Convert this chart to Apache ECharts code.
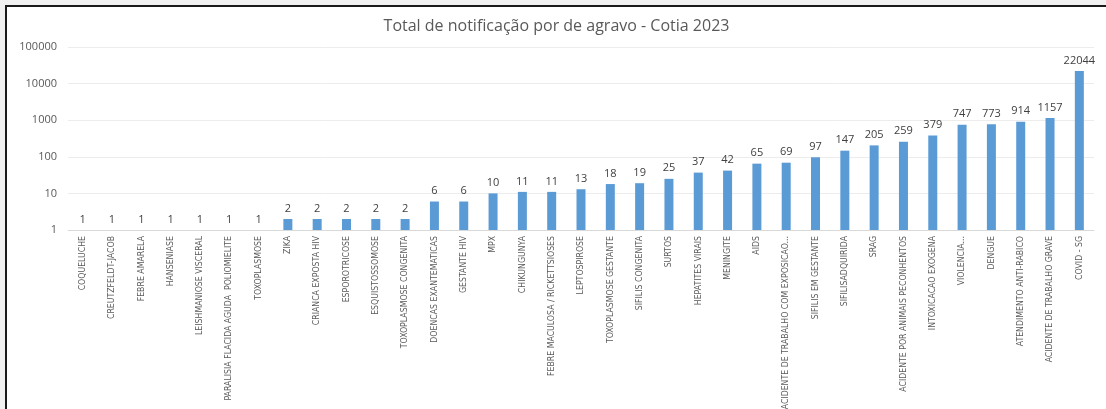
<!DOCTYPE html>
<html>
<head>
<meta charset="utf-8">
<script src="https://cdn.jsdelivr.net/npm/echarts@6/dist/echarts.min.js"></script>
<style>
  html, body { margin: 0; padding: 0; background: #f0f0f0; overflow: hidden; }
  #frame { position: absolute; left: 5px; top: 5px; width: 1101px; height: 404px;
           border-top: 2px solid #1a1a1a; border-left: 2px solid #1a1a1a; background: #fff; }
  #main { width: 1099px; height: 402px; }
</style>
</head>
<body>
<div id="frame"><div id="main"></div></div>
<script>
// categorias (agravos)
var agravos = [
  'COQUELUCHE', 'CREUTZFELDT-JACOB', 'FEBRE AMARELA', 'HANSENIASE', 'LEISHMANIOSE VISCERAL',
  'PARALISIA FLACIDA AGUDA  POLIOMIELITE', 'TOXOPLASMOSE', 'ZIKA', 'CRIANCA EXPOSTA HIV',
  'ESPOROTRICOSE', 'ESQUISTOSSOMOSE', 'TOXOPLASMOSE CONGENITA', 'DOENCAS EXANTEMATICAS',
  'GESTANTE HIV', 'MPX', 'CHIKUNGUNYA', 'FEBRE MACULOSA / RICKETTSIOSES', 'LEPTOSPIROSE',
  'TOXOPLASMOSE GESTANTE', 'SIFILIS CONGENITA', 'SURTOS', 'HEPATITES VIRAIS', 'MENINGITE',
  'AIDS', 'ACIDENTE DE TRABALHO COM EXPOSICAO...', 'SIFILIS EM GESTANTE', 'SIFILISADQUIRIDA',
  'SRAG', 'ACIDENTE POR ANIMAIS PECONHENTOS', 'INTOXICACAO EXOGENA', 'VIOLENCIA...',
  'DENGUE', 'ATENDIMENTO ANTI-RABICO', 'ACIDENTE DE TRABALHO GRAVE', 'COVID - SG'
];
// total de notificacoes
var totais = [
  1, 1, 1, 1, 1, 1, 1, 2, 2, 2, 2, 2, 6, 6, 10, 11, 11, 13, 18, 19, 25, 37, 42,
  65, 69, 97, 147, 205, 259, 379, 747, 773, 914, 1157, 22044
];

var myChart = echarts.init(document.getElementById('main'));
var option = {
  animation: false,
  title: {
    text: 'Total de notificação por de agravo - Cotia 2023',
    left: 'center',
    top: 6,
    textStyle: { color: '#595959', fontWeight: 'normal', fontSize: 16, fontFamily: 'Open Sans' }
  },
  grid: { left: 61, right: 12, top: 40, bottom: 179, containLabel: false, outerBoundsMode: 'none' },
  xAxis: {
    type: 'category',
    data: agravos,
    axisLine: { lineStyle: { color: '#d9d9d9' } },
    axisTick: { show: false },
    axisLabel: {
      rotate: 90,
      interval: 0,
      margin: 6,
      color: '#595959',
      fontSize: 8.7,
      fontFamily: 'DejaVu Sans Condensed'
    }
  },
  yAxis: {
    type: 'log',
    logBase: 10,
    min: 1,
    max: 100000,
    axisLine: { show: false },
    axisTick: { show: false },
    splitLine: { lineStyle: { color: '#ececec' } },
    axisLabel: {
      color: '#595959', fontSize: 11, margin: 11, fontFamily: 'Open Sans',
      formatter: function (v) { return String(v); }
    }
  },
  series: [{
    type: 'bar',
    data: totais,
    barWidth: 9,
    itemStyle: { color: '#5b9bd5' },
    label: {
      show: true,
      position: 'top',
      color: '#404040',
      fontSize: 11,
      distance: 5,
      fontFamily: 'Open Sans'
    }
  }]
};
myChart.setOption(option);
</script>
</body>
</html>
